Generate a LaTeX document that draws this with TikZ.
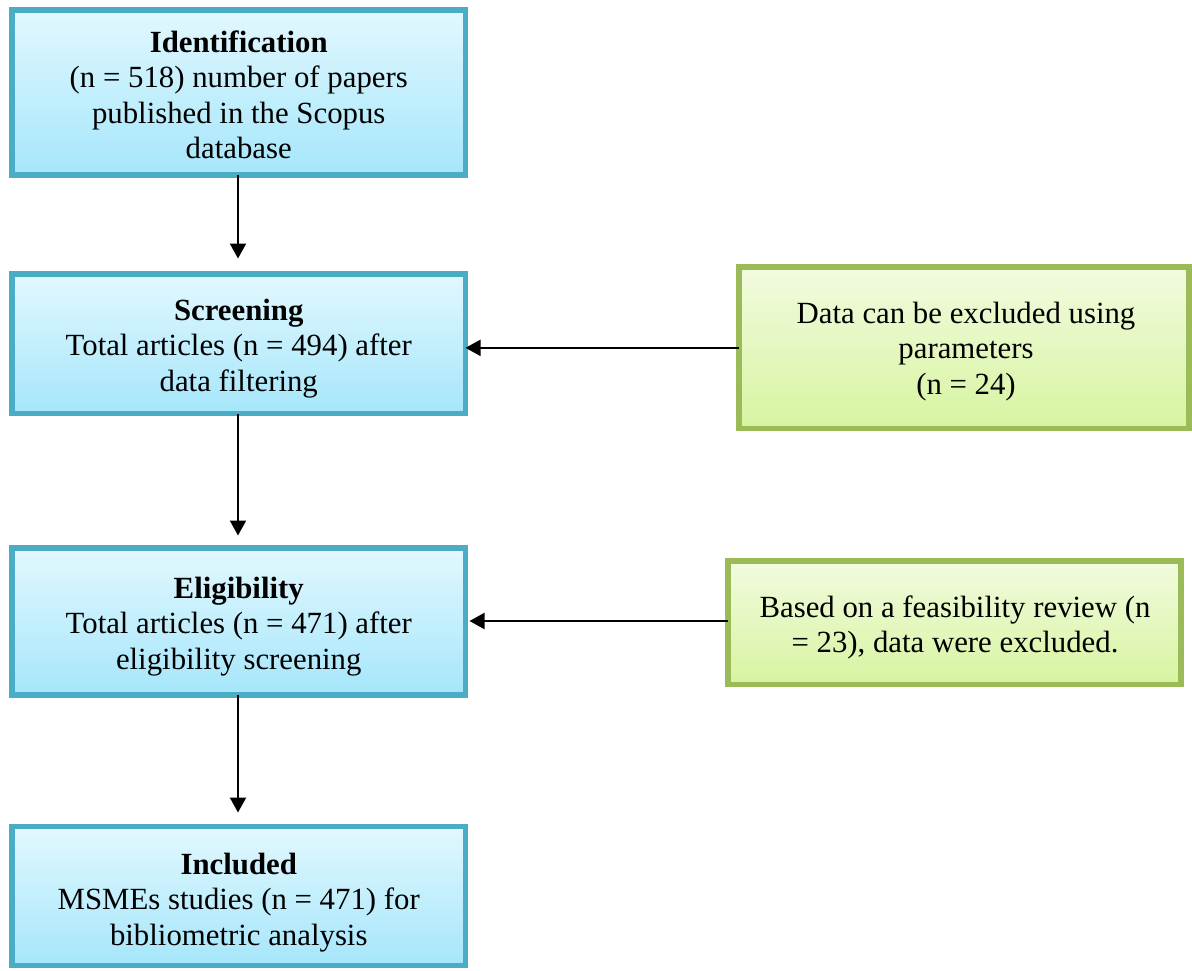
\documentclass[tikz,border=0pt]{standalone}
\usepackage{fontspec}
\setmainfont{Liberation Serif}
\usetikzlibrary{arrows.meta,shadows}

\definecolor{blueedge}{HTML}{4BACC6}
\definecolor{bluetop}{HTML}{E2F8FE}
\definecolor{bluebot}{HTML}{A5E6FB}
\definecolor{greenedge}{HTML}{9BBB59}
\definecolor{greentop}{HTML}{F2FBDF}
\definecolor{greenbot}{HTML}{D7F4A0}

\tikzset{
  x=1pt, y=-1pt,
  stagebox/.style={draw=blueedge, line width=5.5pt, top color=bluetop, bottom color=bluebot,
    inner sep=0pt, outer sep=0pt,
    drop shadow={shadow xshift=2pt, shadow yshift=-2.5pt, opacity=0.35, fill=black!70}},
  notebox/.style={draw=greenedge, line width=5.5pt, top color=greentop, bottom color=greenbot,
    inner sep=0pt, outer sep=0pt,
    drop shadow={shadow xshift=2pt, shadow yshift=-2.5pt, opacity=0.35, fill=black!70}},
  boxtext/.style={anchor=base, inner sep=0pt, outer sep=0pt,
    font=\fontsize{30.8}{35.5}\selectfont},
  flow/.style={line width=2pt, -{Triangle[width=16pt,length=15pt]}},
}
\newcommand{\lines}[1]{\renewcommand{\arraystretch}{1}\setlength{\tabcolsep}{0pt}\begin{tabular}[t]{c}#1\end{tabular}}

\begin{document}
\begin{tikzpicture}
\useasboundingbox (0,0) rectangle (1192,970);

% main stages
\node[stagebox, minimum width=453.5pt, minimum height=165pt]   (b1) at (238.75,92.5) {};
\node[stagebox, minimum width=453.5pt, minimum height=139.5pt] (b2) at (238.75,343.75) {};
\node[stagebox, minimum width=453.5pt, minimum height=147pt]   (b3) at (238.75,621.5) {};
\node[stagebox, minimum width=453.5pt, minimum height=139pt]   (b4) at (238.75,896) {};

% exclusion notes
\node[notebox, minimum width=450pt, minimum height=161.7pt] (g1) at (964,347.85) {};
\node[notebox, minimum width=453pt, minimum height=123.7pt] (g2) at (954.5,622.85) {};

% texts
\node[boxtext] (t1) at (238.75,52) {\lines{\textbf{Identification}\\(n = 518) number of papers\\published in the Scopus\\database}};
\node[boxtext] (t2) at (238.75,320) {\lines{\textbf{Screening}\\Total articles (n = 494) after\\data filtering}};
\node[boxtext] (t3) at (238.75,598) {\lines{\textbf{Eligibility}\\Total articles (n = 471) after\\eligibility screening}};
\node[boxtext] (t4) at (238.75,874) {\lines{\textbf{Included}\\MSMEs studies (n = 471) for\\bibliometric analysis}};
\node[boxtext] (t5) at (966,323) {\lines{Data can be excluded using\\parameters\\(n = 24)}};
\node[boxtext] (t6) at (955,617) {\lines{Based on a feasibility review (n\\= 23), data were excluded.}};

% connectors
\draw[flow, shorten >=15.5pt] ([xshift=-0.75pt]b1.south) -- ([xshift=-0.75pt]b2.north);
\draw[flow, shorten >=12.5pt] ([xshift=-0.75pt]b2.south) -- ([xshift=-0.75pt]b3.north);
\draw[flow, shorten >=14pt]   ([xshift=-0.75pt]b3.south) -- ([xshift=-0.75pt]b4.north);
\draw[flow] (g1.west) -- (g1.west -| b2.east);
\draw[flow, shorten >=4pt] ([yshift=1.85pt]g2.west) -- ([yshift=1.85pt]g2.west -| b3.east);
\end{tikzpicture}
\end{document}
